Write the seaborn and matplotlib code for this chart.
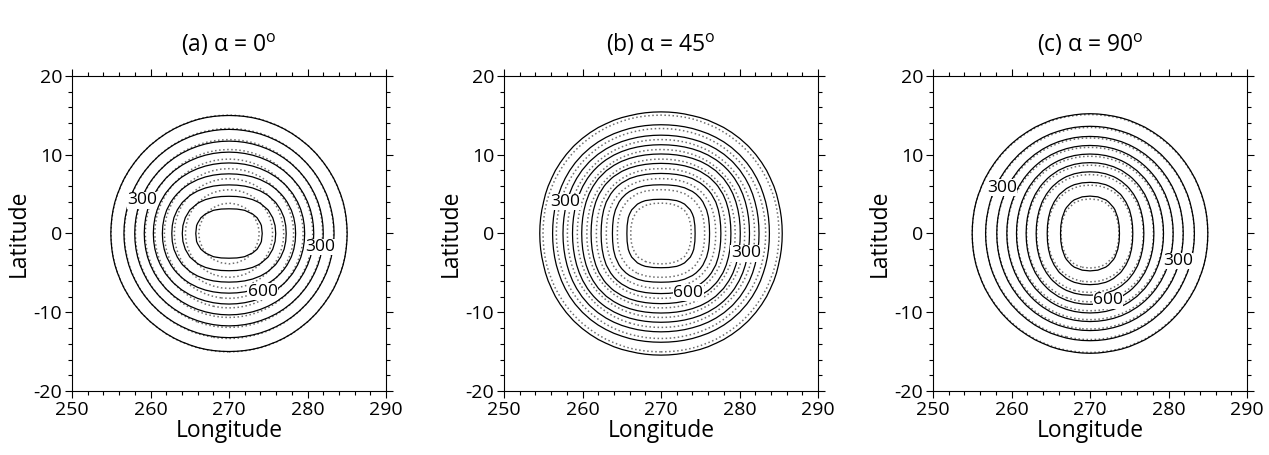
import numpy as np
import matplotlib
matplotlib.use("Agg")
import matplotlib.pyplot as plt
from matplotlib.ticker import MultipleLocator
import seaborn as sns

sns.set_style("ticks")
plt.rcParams["font.family"] = ["Open Sans", "DejaVu Sans"]
plt.rcParams["mathtext.fontset"] = "custom"
plt.rcParams["mathtext.rm"] = "Open Sans"
plt.rcParams["axes.unicode_minus"] = False
plt.rcParams["text.color"] = "black"
plt.rcParams["axes.labelcolor"] = "black"
plt.rcParams["xtick.color"] = "black"
plt.rcParams["ytick.color"] = "black"

# cosine bell: peak height, radius (deg) and centre
bell_height = 1000.0
bell_radius = 18.9
bell_center = (270.0, 0.0)
levels = [100, 200, 300, 400, 500, 600, 700, 800, 900]

panel_titles = ["(a) α = 0$^{\\rm o}$", "(b) α = 45$^{\\rm o}$", "(c) α = 90$^{\\rm o}$"]

# shape of the numerical solution near the peak: x-scale, y-scale, exponent, blend radius
solid_shape = [(1.15, 0.78, 2.6, 7.0), (1.15, 1.15, 3.2, 12.0), (0.97, 1.35, 2.6, 8.5)]
# shape of the reference solution
dotted_shape = [(1.0, 1.0, 2.0, 7.0), (1.0, 1.0, 2.8, 10.0), (0.95, 1.2, 2.4, 8.0)]

# contour labels: value and anchor (lon, lat)
label_values = [[300, 300, 600], [300, 300, 600], [300, 300, 600]]
label_lon = [[258.9, 281.6, 274.3], [257.8, 280.8, 273.5], [258.8, 281.2, 272.3]]
label_lat = [[4.2, -1.7, -7.4], [4.0, -2.5, -7.5], [5.8, -3.5, -8.5]]

lon = np.arange(250, 290.01, 1.0)
lat = np.arange(-20, 20.01, 1.0)
LON, LAT = np.meshgrid(lon, lat)


def bell(shape):
    sx, sy, p, r0 = shape
    dx = LON - bell_center[0]
    dy = LAT - bell_center[1]
    r = np.hypot(dx, dy)
    d_shape = (np.abs(dx / sx) ** p + np.abs(dy / sy) ** p) ** (1.0 / p)
    w = np.exp(-(r / r0) ** 2)
    d = w * d_shape + (1 - w) * r
    h = 0.5 * bell_height * (1 + np.cos(np.pi * np.clip(d / bell_radius, 0, 1)))
    return np.where(d < bell_radius, h, 0.0)


fig = plt.figure(figsize=(12.69, 4.55), dpi=100)
lefts = [72 / 1269, 504 / 1269, 933 / 1269]
for i in range(3):
    ax = fig.add_axes([lefts[i], 1 - 391 / 455, 314 / 1269, 315 / 455])
    ax.contour(LON, LAT, bell(dotted_shape[i]), levels=levels,
               colors="#6e6e6e", linewidths=1.1, linestyles=":")
    ax.contour(LON, LAT, bell(solid_shape[i]), levels=levels,
               colors="black", linewidths=0.9, linestyles="-")
    for v, x, y in zip(label_values[i], label_lon[i], label_lat[i]):
        ax.text(x, y, f"{v}", fontsize=12.5, ha="center", va="center", zorder=5,
                bbox=dict(facecolor="white", edgecolor="none", pad=0.3))
    ax.set_xlim(250, 290)
    ax.set_ylim(-20, 20)
    ax.set_xticks([250, 260, 270, 280, 290])
    ax.set_yticks([-20, -10, 0, 10, 20])
    ax.xaxis.set_minor_locator(MultipleLocator(2))
    ax.yaxis.set_minor_locator(MultipleLocator(2))
    ax.tick_params(which="both", direction="out", top=True, right=True,
                   labeltop=False, labelright=False, color="black", width=0.8)
    ax.tick_params(which="major", length=5, labelsize=14, pad=2)
    ax.tick_params(which="minor", length=3)
    for s in ax.spines.values():
        s.set_visible(True)
        s.set_linewidth(0.8)
        s.set_color("black")
    ax.set_xlabel("Longitude", fontsize=16.5, labelpad=0)
    ax.set_ylabel("Latitude", fontsize=16.5, labelpad=2)
    ax.set_title(panel_titles[i], fontsize=16.5, pad=17)

fig.savefig("out.png", dpi=100)
